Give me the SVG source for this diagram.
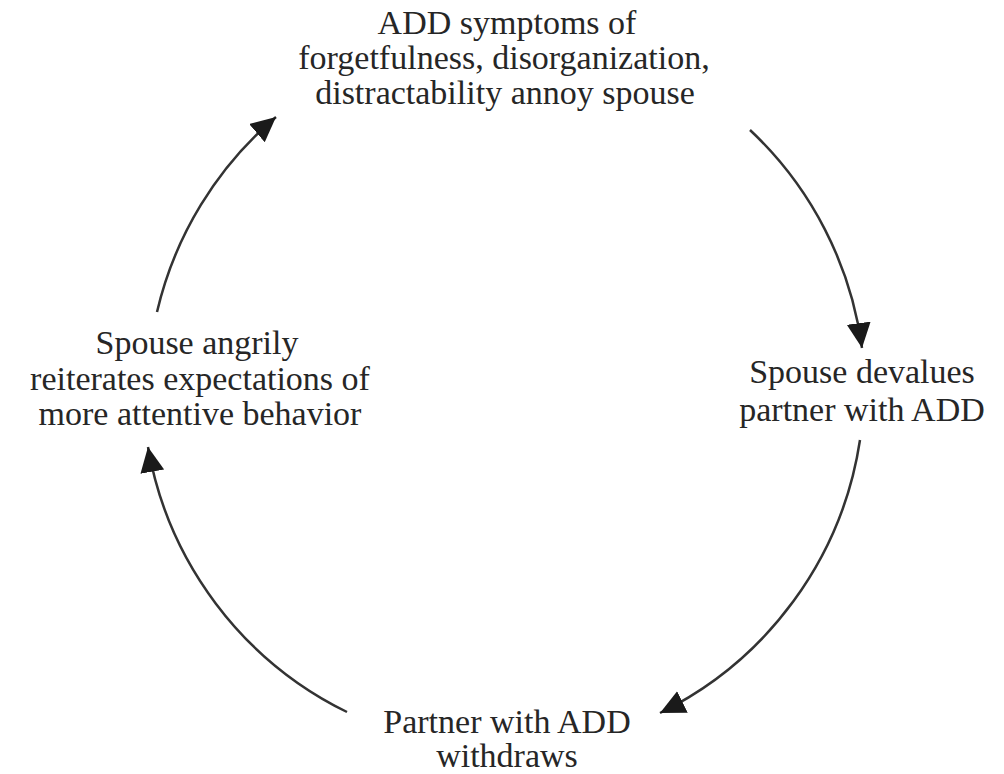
<svg xmlns="http://www.w3.org/2000/svg" width="1004" height="774" viewBox="0 0 1004 774">
<style>
.t{font-family:"Liberation Serif","Times New Roman",serif;font-size:34px;fill:#262626;text-anchor:middle}
.c{fill:none;stroke:#333;stroke-width:2.5}
</style>
<defs>
<marker id="ah" markerUnits="userSpaceOnUse" markerWidth="30" markerHeight="26" refX="25" refY="12" orient="auto" viewBox="0 0 30 26">
<path d="M0,0 L25,12 L0,24 z" fill="#1a1a1a"/>
</marker>
</defs>
<rect width="1004" height="774" fill="#fff"/>
<g id="connectors">
<path class="c" d="M157,312 A365,365 0 0 1 276,117" marker-end="url(#ah)"/>
<path class="c" d="M750,130 A365,365 0 0 1 862,348" marker-end="url(#ah)"/>
<path class="c" d="M860,440 A365,365 0 0 1 660,713" marker-end="url(#ah)"/>
<path class="c" d="M347,712 A365,365 0 0 1 148,447" marker-end="url(#ah)"/>
</g>
<g id="node-top">
<text class="t" x="507" y="34">ADD symptoms of</text>
<text class="t" x="504" y="69">forgetfulness, disorganization,</text>
<text class="t" x="505" y="104">distractability annoy spouse</text>
</g>
<g id="node-right">
<text class="t" x="862" y="383">Spouse devalues</text>
<text class="t" x="862" y="421">partner with ADD</text>
</g>
<g id="node-bottom">
<text class="t" x="507" y="733">Partner with ADD</text>
<text class="t" x="507" y="767">withdraws</text>
</g>
<g id="node-left">
<text class="t" x="197" y="354">Spouse angrily</text>
<text class="t" x="200" y="390">reiterates expectations of</text>
<text class="t" x="200" y="425">more attentive behavior</text>
</g>
</svg>
